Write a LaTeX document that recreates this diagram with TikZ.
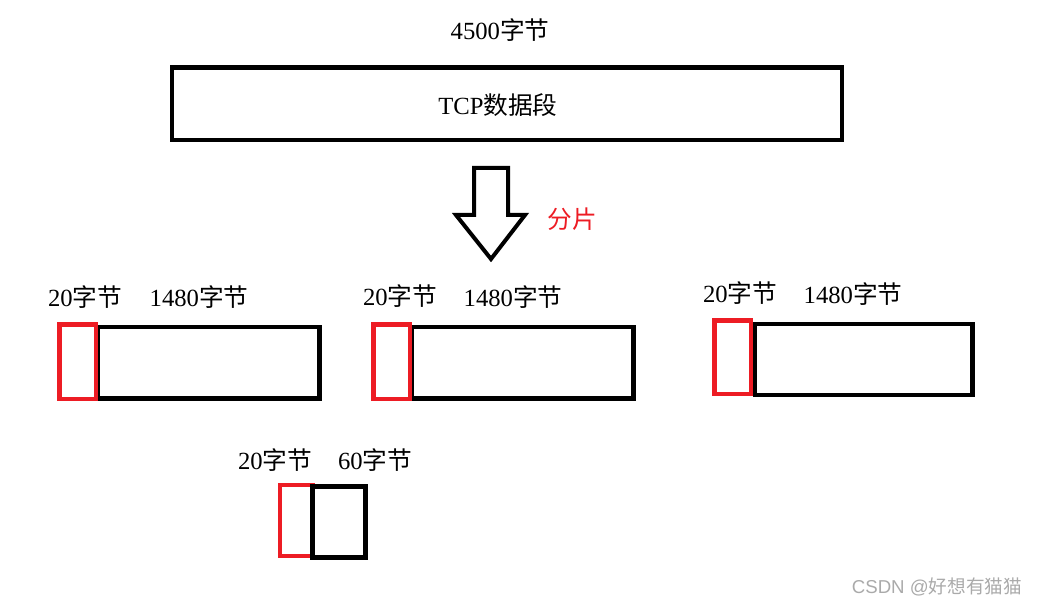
\documentclass[tikz,border=0pt]{standalone}
\usepackage{fontspec}
\setmainfont{Liberation Serif}
\newfontfamily\cjk{Noto Sans CJK SC}
\newfontfamily\wm{Liberation Sans}
\definecolor{hdrred}{RGB}{237,28,36}
\definecolor{wmgray}{RGB}{170,170,170}
\tikzset{
  lbl/.style={inner sep=0pt, font=\fontsize{18.5}{20}\selectfont},
  datab/.style={draw=black, line width=3.3pt},
  hdrb/.style={draw=hdrred, line width=3.3pt},
}
\newcommand{\zj}{{\cjk 字节}}
\begin{document}
\begin{tikzpicture}[x=0.75pt,y=-0.75pt]
\useasboundingbox (0,0) rectangle (1039,606);
% top
\node[lbl] (t4500) at (500,30) {4500\zj};
\draw[datab] (172,67.5) rectangle (842,140);
\node[lbl] (tcp) at (498,105) {TCP{\cjk 数据段}};
% arrow
\draw[line width=3pt, line join=miter] (474,168) -- (508,168) -- (508,215) -- (525,215) -- (491,259) -- (456,215) -- (474,215) -- cycle;
\node[lbl, text=hdrred] (fp) at (572,219) {\cjk 分片};
% segment 1
\node[lbl] (a20) at (85,297) {20\zj};
\node[lbl] (a1480) at (199,297) {1480\zj};
\draw[datab] (98,327) rectangle (319.5,398.5);
\draw[hdrb] (59.5,324.5) rectangle (96,399);
% segment 2
\node[lbl] (b20) at (400,296) {20\zj};
\node[lbl] (b1480) at (513,297) {1480\zj};
\draw[datab] (412,327) rectangle (633.5,398.5);
\draw[hdrb] (373.5,324.5) rectangle (410,399);
% segment 3
\node[lbl] (c20) at (740,293) {20\zj};
\node[lbl] (c1480) at (853,294) {1480\zj};
\draw[datab] (755,324) rectangle (972.5,395);
\draw[hdrb] (714.5,320.5) rectangle (751,394);
% segment 4
\node[lbl] (d20) at (275,460) {20\zj};
\node[lbl] (d60) at (375,460) {60\zj};
\draw[hdrb] (280,485) rectangle (313,556);
\draw[datab] (312.5,486.5) rectangle (365.5,557.5);
% watermark
\node[inner sep=0pt, text=wmgray, font=\fontsize{14}{16}\selectfont] (wm) at (937,587) {\wm CSDN @{\cjk 好想有猫猫}};
\end{tikzpicture}
\end{document}
